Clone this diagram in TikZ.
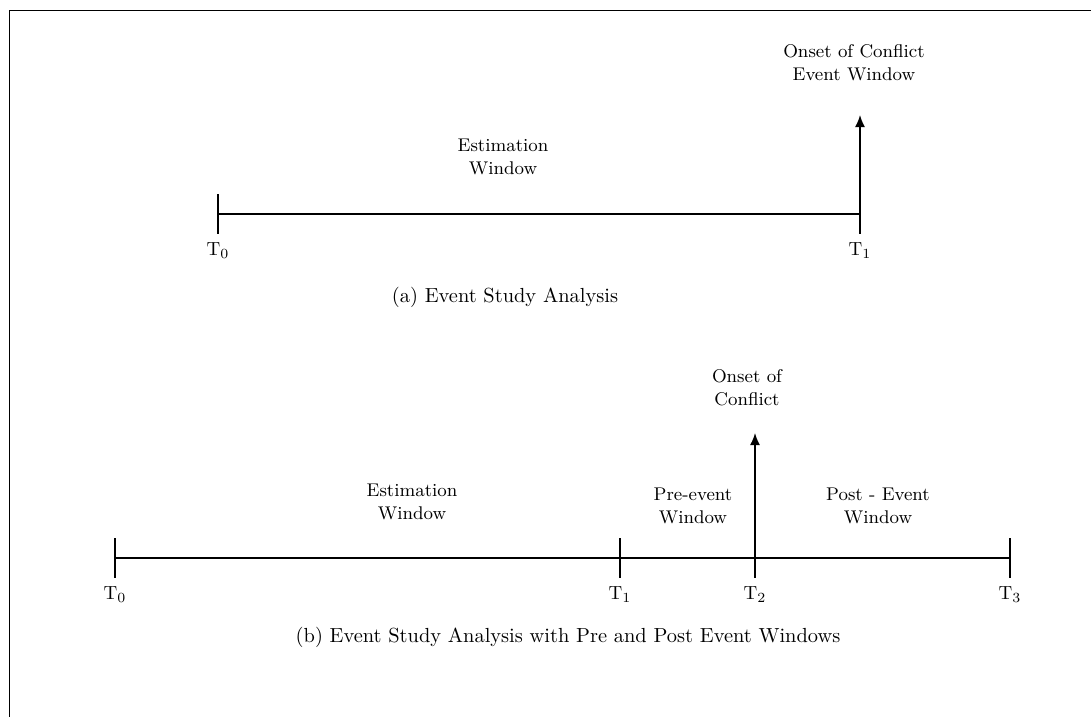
\documentclass[tikz,border=0pt]{standalone}
\usepackage{tikz}
\usetikzlibrary{positioning,arrows.meta}

\begin{document}
\begin{tikzpicture}[x=0.5pt,y=-0.5pt,
  axis/.style={draw,semithick},
  onset/.style={draw,thick,-{Latex[length=6pt,width=5pt]}},
  winlabel/.style={font=\fontsize{9.2}{11.5}\selectfont,align=center,inner sep=0pt},
  tlabel/.style={font=\fontsize{9.5}{11}\selectfont,inner sep=0pt},
  caption/.style={font=\fontsize{10.2}{12}\selectfont,inner sep=0pt}]
  \useasboundingbox (0,0) rectangle (1091,717);

  %frame
  \draw (1091,10) -- (9,10) -- (9,717);

  %(a) timeline
  \coordinate (a0) at (218,214);
  \coordinate (a1) at (860,214);
  \draw[axis] (a0) -- (a1);
  \draw[axis] ([yshift=10pt]a0) -- ([yshift=-10pt]a0);
  \draw[axis] (a1) -- ([yshift=-10pt]a1);
  \coordinate[above=49.5pt of a1] (a1top);
  \draw[onset] (a1) -- (a1top);
  \node[tlabel,below=14pt of a0] (ta0) {T$_0$};
  \node[tlabel,below=14pt of a1] (ta1) {T$_1$};
  \node[winlabel] (aest) at (503,157) {Estimation\\Window};
  \node[winlabel] (aonset) at (854,63) {Onset of Conflict\\Event Window};
  \node[caption] (capa) at (505,297) {(a) Event Study Analysis};

  %(b) timeline
  \coordinate (b0) at (115,558);
  \coordinate (b1) at (620,558);
  \coordinate (b2) at (755,558);
  \coordinate (b3) at (1010,558);
  \draw[axis] (b0) -- (b3);
  \foreach \t in {b0,b1,b3}
    \draw[axis] ([yshift=10pt]\t) -- ([yshift=-10pt]\t);
  \draw[axis] (b2) -- ([yshift=-10pt]b2);
  \coordinate[above=62.5pt of b2] (b2top);
  \draw[onset] (b2) -- (b2top);
  \node[tlabel,below=14pt of b0] (tb0) {T$_0$};
  \node[tlabel,below=14pt of b1] (tb1) {T$_1$};
  \node[tlabel,below=14pt of b2] (tb2) {T$_2$};
  \node[tlabel,below=14pt of b3] (tb3) {T$_3$};
  \node[winlabel] (best) at (412,502) {Estimation\\Window};
  \node[winlabel] (bpre) at (693,506) {Pre-event\\Window};
  \node[winlabel] (bpost) at (878,506) {Post - Event\\Window};
  \node[winlabel] (bonset) at (747,388) {Onset of\\Conflict};
  \node[caption] (capb) at (568,637) {(b) Event Study Analysis with Pre and Post Event Windows};
\end{tikzpicture}
\end{document}
